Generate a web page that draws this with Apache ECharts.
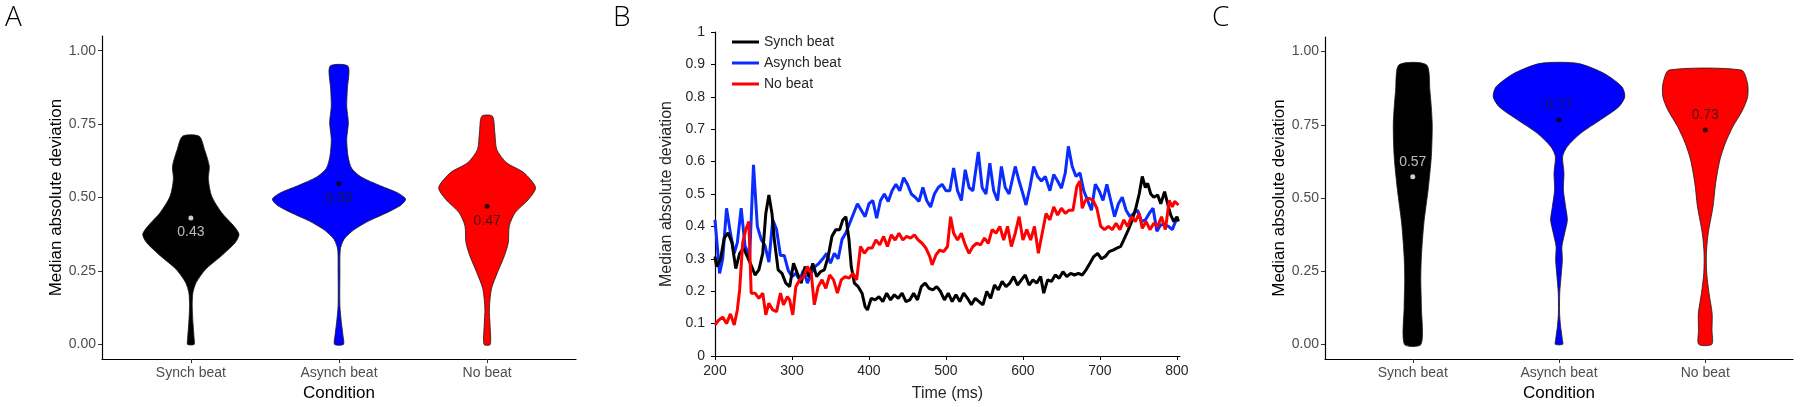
<!DOCTYPE html>
<html><head><meta charset="utf-8">
<script src="https://cdn.jsdelivr.net/npm/echarts@6/dist/echarts.min.js"></script>
<style>html,body{margin:0;padding:0;background:#fff}#c{width:1800px;height:407px}</style>
</head><body><div id="c"></div>
<script>
// ---------- categories & ticks ----------
const categories = ['Synch beat', 'Asynch beat', 'No beat'];
const violinTicks = [0, 0.25, 0.5, 0.75, 1];
const timeTicks = [200, 300, 400, 500, 600, 700, 800];
const devTicks = [0, 0.1, 0.2, 0.3, 0.4, 0.5, 0.6, 0.7, 0.8, 0.9, 1];

// ---------- Panel A violins: [value, half-width in category units] ----------
const aSynch = [[0,0.022],[0.019,0.022],[0.075,0.014],[0.132,0.009],[0.177,0.014],[0.211,0.036],[0.256,0.10],[0.302,0.207],[0.347,0.30],[0.375,0.325],[0.403,0.29],[0.449,0.207],[0.505,0.14],[0.562,0.118],[0.607,0.124],[0.664,0.092],[0.709,0.056]];
const aAsynch = [[0,0.03],[0.03,0.027],[0.075,0.016],[0.132,0.006],[0.245,0.006],[0.324,0.009],[0.358,0.034],[0.39,0.10],[0.42,0.20],[0.45,0.33],[0.475,0.42],[0.495,0.45],[0.515,0.40],[0.54,0.28],[0.57,0.15],[0.60,0.085],[0.641,0.061],[0.698,0.052],[0.755,0.063],[0.811,0.052],[0.868,0.056],[0.947,0.061]];
const aNoBeat = [[0,0.021],[0.064,0.02],[0.121,0.015],[0.189,0.029],[0.245,0.07],[0.302,0.117],[0.347,0.143],[0.404,0.15],[0.449,0.19],[0.494,0.28],[0.534,0.327],[0.585,0.247],[0.619,0.13],[0.664,0.065],[0.72,0.052],[0.777,0.036]];
const aMeans = [0.43, 0.548, 0.47];
const aLabels = ['0.43', '0.50', '0.47'];

// ---------- Panel C violins ----------
const cSynch = [[0,0.057],[0.129,0.059],[0.22,0.055],[0.30,0.059],[0.414,0.076],[0.528,0.105],[0.642,0.127],[0.755,0.133],[0.869,0.117],[0.955,0.094]];
const cAsynch = [[0,0.025],[0.016,0.023],[0.061,0.011],[0.107,0.004],[0.175,0.005],[0.243,0.016],[0.289,0.023],[0.334,0.02],[0.38,0.039],[0.425,0.057],[0.471,0.045],[0.528,0.03],[0.585,0.034],[0.642,0.025],[0.676,0.057],[0.721,0.148],[0.767,0.284],[0.812,0.41],[0.846,0.45],[0.88,0.43],[0.926,0.307],[0.96,0.127]];
const cNoBeat = [[0,0.045],[0.05,0.046],[0.106,0.047],[0.174,0.026],[0.243,0.01],[0.311,0.008],[0.379,0.02],[0.47,0.053],[0.55,0.071],[0.63,0.10],[0.687,0.137],[0.744,0.189],[0.80,0.255],[0.846,0.29],[0.892,0.289],[0.937,0.247]];
const cMeans = [0.573, 0.767, 0.732];
const cLabels = ['0.57', '0.77', '0.73'];

// ---------- Panel B time courses: [time ms, median absolute deviation] ----------
const synchBeat = [[200,0.307],[202,0.276],[207,0.297],[212,0.364],[217,0.38],[222,0.35],[227,0.27],[232,0.317],[237,0.333],[242,0.307],[247,0.28],[252,0.25],[257,0.266],[262,0.317],[266,0.44],[270,0.497],[274,0.44],[277,0.36],[282,0.266],[287,0.255],[292,0.225],[297,0.214],[302,0.286],[307,0.255],[312,0.225],[317,0.276],[322,0.245],[327,0.286],[332,0.245],[337,0.26],[342,0.266],[347,0.307],[352,0.37],[357,0.39],[362,0.39],[366,0.42],[370,0.43],[374,0.36],[377,0.276],[381,0.225],[386,0.214],[391,0.194],[395,0.152],[398,0.142],[403,0.178],[408,0.173],[413,0.183],[418,0.168],[423,0.194],[428,0.173],[433,0.189],[438,0.178],[443,0.194],[448,0.168],[453,0.173],[458,0.194],[463,0.173],[468,0.214],[473,0.225],[478,0.209],[483,0.204],[488,0.214],[493,0.199],[498,0.173],[503,0.194],[508,0.168],[513,0.189],[518,0.168],[523,0.194],[528,0.178],[533,0.158],[538,0.178],[543,0.168],[548,0.158],[553,0.199],[558,0.178],[563,0.219],[568,0.204],[573,0.23],[578,0.214],[583,0.225],[588,0.245],[593,0.219],[598,0.235],[603,0.25],[608,0.219],[613,0.235],[618,0.225],[623,0.245],[627,0.194],[632,0.235],[637,0.23],[642,0.25],[647,0.24],[652,0.26],[657,0.245],[662,0.255],[667,0.25],[672,0.255],[677,0.25],[682,0.266],[687,0.286],[692,0.307],[697,0.317],[702,0.30],[707,0.307],[712,0.322],[717,0.327],[722,0.333],[727,0.338],[732,0.364],[737,0.39],[742,0.42],[747,0.46],[751,0.50],[755,0.554],[759,0.52],[762,0.533],[766,0.50],[770,0.49],[775,0.497],[779,0.47],[784,0.507],[789,0.46],[792,0.435],[796,0.415],[800,0.43],[802,0.415]];
const asynchBeat = [[200,0.42],[202,0.42],[206,0.255],[210,0.30],[215,0.456],[220,0.38],[225,0.317],[229,0.35],[234,0.456],[239,0.34],[245,0.307],[250,0.59],[255,0.40],[260,0.36],[265,0.34],[270,0.29],[275,0.42],[280,0.39],[285,0.31],[290,0.31],[295,0.265],[300,0.245],[305,0.255],[310,0.235],[315,0.265],[320,0.225],[325,0.255],[330,0.276],[335,0.286],[340,0.30],[345,0.317],[350,0.286],[355,0.317],[360,0.30],[365,0.36],[370,0.38],[375,0.41],[380,0.44],[385,0.47],[390,0.45],[395,0.43],[400,0.47],[405,0.48],[410,0.425],[415,0.48],[420,0.50],[425,0.477],[430,0.51],[435,0.53],[440,0.51],[445,0.55],[450,0.53],[455,0.50],[460,0.49],[465,0.477],[470,0.52],[475,0.48],[480,0.46],[485,0.50],[490,0.52],[495,0.53],[500,0.51],[505,0.51],[510,0.58],[515,0.51],[520,0.48],[525,0.575],[530,0.52],[535,0.51],[542,0.63],[547,0.52],[552,0.50],[557,0.595],[562,0.51],[567,0.48],[572,0.585],[577,0.52],[582,0.50],[590,0.585],[595,0.54],[600,0.50],[604,0.466],[609,0.52],[614,0.585],[619,0.554],[624,0.54],[629,0.554],[635,0.51],[640,0.56],[645,0.54],[650,0.518],[655,0.565],[659,0.647],[664,0.585],[669,0.554],[674,0.565],[679,0.51],[684,0.48],[689,0.45],[694,0.53],[699,0.51],[704,0.48],[709,0.53],[714,0.48],[719,0.43],[724,0.47],[729,0.49],[734,0.45],[739,0.43],[744,0.44],[749,0.45],[754,0.415],[759,0.42],[764,0.44],[769,0.456],[774,0.385],[779,0.405],[784,0.405],[789,0.40],[794,0.39],[799,0.42],[801,0.415]];
const noBeat = [[200,0.096],[205,0.111],[210,0.12],[215,0.10],[220,0.13],[225,0.096],[229,0.142],[232,0.204],[236,0.35],[240,0.39],[244,0.415],[247,0.194],[252,0.194],[257,0.178],[262,0.194],[266,0.127],[270,0.163],[275,0.142],[280,0.137],[285,0.194],[289,0.158],[294,0.183],[297,0.173],[301,0.127],[305,0.214],[310,0.235],[315,0.245],[320,0.276],[325,0.255],[329,0.158],[334,0.214],[339,0.235],[344,0.209],[349,0.25],[354,0.235],[359,0.194],[364,0.235],[369,0.245],[374,0.24],[379,0.255],[384,0.235],[389,0.338],[394,0.317],[399,0.333],[404,0.333],[409,0.358],[414,0.343],[419,0.369],[424,0.338],[429,0.374],[434,0.358],[439,0.379],[444,0.358],[449,0.369],[454,0.364],[459,0.374],[464,0.358],[469,0.348],[474,0.333],[479,0.307],[482,0.281],[487,0.312],[492,0.327],[497,0.322],[502,0.338],[506,0.43],[510,0.379],[515,0.358],[520,0.379],[525,0.343],[530,0.317],[535,0.338],[540,0.348],[545,0.343],[550,0.364],[555,0.348],[560,0.39],[565,0.379],[570,0.40],[575,0.358],[580,0.40],[585,0.338],[590,0.379],[595,0.43],[600,0.358],[605,0.39],[610,0.358],[615,0.40],[620,0.317],[625,0.379],[630,0.44],[635,0.42],[640,0.46],[645,0.435],[650,0.456],[655,0.44],[660,0.45],[665,0.45],[670,0.523],[674,0.54],[677,0.456],[681,0.48],[686,0.487],[691,0.48],[696,0.456],[701,0.40],[706,0.39],[711,0.40],[716,0.39],[721,0.41],[726,0.39],[731,0.42],[736,0.40],[741,0.43],[746,0.415],[751,0.44],[755,0.394],[760,0.415],[765,0.39],[770,0.41],[775,0.40],[780,0.43],[785,0.39],[790,0.48],[794,0.46],[797,0.477],[802,0.466]];

// ---------- styling ----------
const fillColors = ['#000000', '#0000ff', '#ff0000'];
const lineColors = ['#000000', '#0a2cff', '#ff0000'];
const FONT = '"Liberation Sans", Arial, sans-serif';

const chart = echarts.init(document.getElementById('c'), null, {renderer: 'canvas'});

function violinSeries(axisIdx, shapes) {
  return {
    type: 'custom', xAxisIndex: axisIdx, yAxisIndex: axisIdx, z: 2,
    data: shapes.map((s, i) => [i + 1, 0]),
    encode: {x: 0, y: 1},
    renderItem: function (params, api) {
      const i = params.dataIndex;
      const shape = shapes[i];
      const cx = api.value(0);
      const pts = [];
      for (let k = 0; k < shape.length; k++) pts.push(api.coord([cx + shape[k][1], shape[k][0]]));
      for (let k = shape.length - 1; k >= 0; k--) pts.push(api.coord([cx - shape[k][1], shape[k][0]]));
      return {
        type: 'polygon',
        shape: {points: pts, smooth: 0.25},
        style: {fill: fillColors[i], stroke: '#1a1a1a', lineWidth: 0.8}
      };
    }
  };
}

function meanSeries(axisIdx, means, labels, pos) {
  return {
    type: 'scatter', xAxisIndex: axisIdx, yAxisIndex: axisIdx, z: 5,
    symbolSize: 5, silent: true,
    data: means.map((m, i) => ({
      value: [i + 1, m],
      itemStyle: {color: i === 0 ? '#ffffff' : '#000000'},
      label: {
        show: true, position: pos, distance: 5, formatter: labels[i],
        color: i === 0 ? '#e6e6e6' : '#1a1a1a', fontSize: 14, fontFamily: FONT
      }
    }))
  };
}

function catXAxis(grid) {
  return {
    gridIndex: grid, type: 'value', min: 0.4, max: 3.6,
    splitLine: {show: false},
    axisLine: {onZero: false, lineStyle: {color: '#000', width: 1.2}},
    axisTick: {customValues: [1, 2, 3], length: 4, lineStyle: {color: '#333', width: 1}},
    axisLabel: {customValues: [1, 2, 3], formatter: v => categories[Math.round(v) - 1],
      color: '#4d4d4d', fontSize: 14, margin: 7, fontFamily: FONT},
    name: 'Condition', nameLocation: 'middle', nameGap: 25,
    nameTextStyle: {fontSize: 17, color: '#000', fontFamily: FONT}
  };
}
function violinYAxis(grid, gap) {
  return {
    gridIndex: grid, type: 'value', min: -0.05, max: 1.05,
    splitLine: {show: false},
    axisLine: {show: true, onZero: false, lineStyle: {color: '#000', width: 1.2}},
    axisTick: {show: true, customValues: violinTicks, length: 4, lineStyle: {color: '#333', width: 1}},
    axisLabel: {customValues: violinTicks, formatter: v => v.toFixed(2),
      color: '#4d4d4d', fontSize: 14, margin: 6, fontFamily: FONT},
    name: 'Median absolute deviation', nameLocation: 'middle', nameGap: gap,
    nameTextStyle: {fontSize: 17, color: '#000', fontFamily: FONT}
  };
}

const option = {
  backgroundColor: '#ffffff',
  animation: false,
  textStyle: {fontFamily: FONT},
  grid: [
    {left: 102, top: 36, width: 474, height: 324},
    {left: 715, top: 32, width: 465, height: 324},
    {left: 1325, top: 37, width: 468, height: 322}
  ],
  legend: {
    data: ['Synch beat', 'Asynch beat', 'No beat'],
    orient: 'vertical', left: 732, top: 35, padding: 0,
    icon: 'rect', itemWidth: 27, itemHeight: 3, itemGap: 7,
    textStyle: {fontSize: 14, lineHeight: 14, color: '#262626', fontFamily: FONT}
  },
  xAxis: [
    catXAxis(0),
    {
      gridIndex: 1, type: 'value', min: 200, max: 804,
      splitLine: {show: false},
      axisLine: {onZero: false, lineStyle: {color: '#000', width: 1.2}},
      axisTick: {customValues: timeTicks, length: 4, lineStyle: {color: '#000'}},
      axisLabel: {customValues: timeTicks, color: '#262626', fontSize: 14, margin: 8, fontFamily: FONT},
      name: 'Time (ms)', nameLocation: 'middle', nameGap: 30,
      nameTextStyle: {fontSize: 16, color: '#262626', fontFamily: FONT}
    },
    catXAxis(2)
  ],
  yAxis: [
    violinYAxis(0, 37),
    {
      gridIndex: 1, type: 'value', min: 0, max: 1,
      splitLine: {show: false},
      axisLine: {show: true, onZero: false, lineStyle: {color: '#000', width: 1.2}},
      axisTick: {show: true, customValues: devTicks, length: 4, lineStyle: {color: '#000'}},
      axisLabel: {customValues: devTicks, formatter: v => (Math.round(v * 10) / 10).toString(),
        color: '#262626', fontSize: 14, margin: 10, fontFamily: FONT},
      name: 'Median absolute deviation', nameLocation: 'middle', nameGap: 40,
      nameTextStyle: {fontSize: 16, color: '#262626', fontFamily: FONT}
    },
    violinYAxis(2, 37)
  ],
  series: [
    violinSeries(0, [aSynch, aAsynch, aNoBeat]),
    meanSeries(0, aMeans, aLabels, 'bottom'),
    {name: 'Synch beat', type: 'line', xAxisIndex: 1, yAxisIndex: 1, data: synchBeat,
      showSymbol: false, color: lineColors[0], lineStyle: {width: 3, color: lineColors[0]}, z: 3},
    {name: 'Asynch beat', type: 'line', xAxisIndex: 1, yAxisIndex: 1, data: asynchBeat,
      showSymbol: false, color: lineColors[1], lineStyle: {width: 3, color: lineColors[1]}, z: 2},
    {name: 'No beat', type: 'line', xAxisIndex: 1, yAxisIndex: 1, data: noBeat,
      showSymbol: false, color: lineColors[2], lineStyle: {width: 3, color: lineColors[2]}, z: 4},
    violinSeries(2, [cSynch, cAsynch, cNoBeat]),
    meanSeries(2, cMeans, cLabels, 'top')
  ],
  graphic: [
    {type: 'text', left: 5, top: 4, style: {text: 'A', fontSize: 28, fontWeight: 300, fontFamily: '"Open Sans", Lato, sans-serif', fill: '#000'}},
    {type: 'text', left: 613, top: 4, style: {text: 'B', fontSize: 28, fontWeight: 300, fontFamily: '"Open Sans", Lato, sans-serif', fill: '#000'}},
    {type: 'text', left: 1212, top: 4, style: {text: 'C', fontSize: 28, fontWeight: 300, fontFamily: '"Open Sans", Lato, sans-serif', fill: '#000'}}
  ]
};
chart.setOption(option);
</script>
</body></html>
